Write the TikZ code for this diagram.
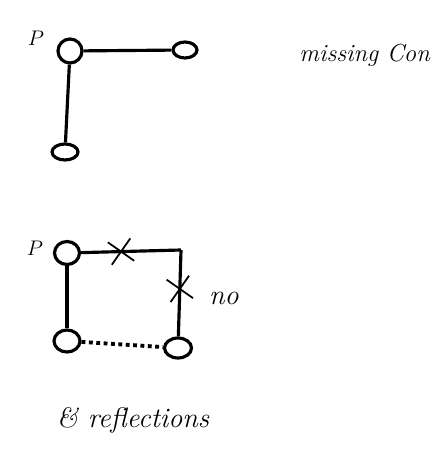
\documentclass[tikz,border=0pt]{standalone}
\usetikzlibrary{shapes.geometric,shapes.misc}
\tikzset{
	site/.style={draw, ellipse, line width=1.8pt, inner sep=0pt},
	hand/.style={font=\fontsize{16}{19}\selectfont\itshape},
	cut/.style={draw, cross out, line width=1pt, minimum size=0.42cm, inner sep=0pt, rotate=10}
}
\begin{document}
\begin{tikzpicture}[x=0.02cm, y=-0.02cm, line width=1.8pt]
	\useasboundingbox (0,0) rectangle (446,465);

	% Primer esquema
	\node[site, minimum width=0.48cm, minimum height=0.48cm] (P1) at (70,51) {};
	\node[site, minimum width=0.48cm, minimum height=0.32cm] (R1) at (185,50) {};
	\node[site, minimum width=0.52cm, minimum height=0.32cm] (B1) at (65,152) {};

	\draw (P1) -- (R1);
	\draw (P1) -- (B1);

	\node[font=\fontsize{13}{15}\selectfont] (lP1) at (36,38) {$P$};
	\node[hand, font=\fontsize{14}{17}\selectfont\itshape, anchor=west] (miss) at (292,55) {missing Con};

	% Segon esquema
	\node[site, minimum width=0.5cm, minimum height=0.46cm] (P2) at (67,253) {};
	\node[site, minimum width=0.52cm, minimum height=0.44cm] (B2) at (67,341) {};
	\node[site, minimum width=0.54cm, minimum height=0.40cm] (R2) at (178,348) {};
	\coordinate (K) at (181,250);

	\draw (P2) -- (K) node[cut, pos=0.4] (x1) {};
	\draw (K) -- (R2) node[cut, pos=0.45] (x2) {};
	\draw (P2) -- (B2);
	\draw[dotted, line width=2.2pt] (B2) -- (R2);

	\node[font=\fontsize{13}{15}\selectfont] (lP2) at (35,248) {$P$};
	\node[hand] (no) at (224,298) {no};

	\node[hand] (refl) at (133,420) {\& reflections};

\end{tikzpicture}
\end{document}
